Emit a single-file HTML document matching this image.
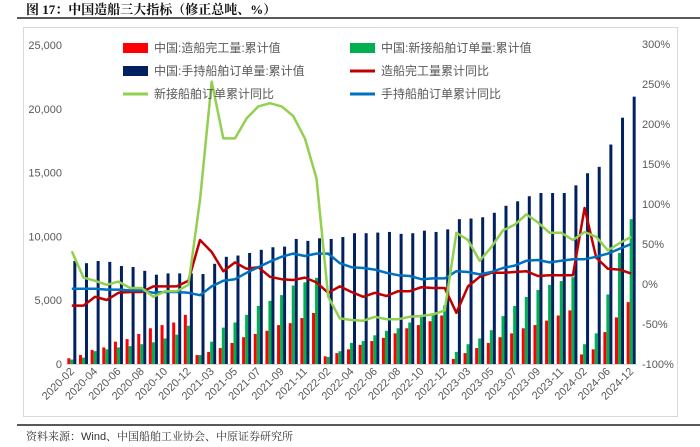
<!DOCTYPE html>
<html><head><meta charset="utf-8">
<style>
body{margin:0;background:#fff;width:700px;height:447px;overflow:hidden;font-family:"Liberation Sans","Noto Sans CJK SC",sans-serif;}
svg{position:absolute;left:0;top:0}
</style></head>
<body>
<svg id="chart" width="700" height="447" viewBox="0 0 700 447">
<text x="26" y="14" font-size="13" font-weight="bold" font-family="'Liberation Serif','Noto Serif CJK SC',serif" fill="#111">图 17：中国造船三大指标（修正总吨、%）</text>
<line x1="17" y1="18" x2="700" y2="18" stroke="#222" stroke-width="1.5"/>
<rect x="23.5" y="27.5" width="654" height="389" fill="none" stroke="#d9d9d9"/>
<line x1="17" y1="425" x2="700" y2="425" stroke="#222" stroke-width="1.5"/>
<text x="26" y="440" font-size="11" fill="#333" font-family="'Liberation Sans','Noto Serif CJK SC',serif">资料来源：Wind、中国船舶工业协会、中原证券研究所</text>
<g id="plot"></g>
<g id="legend" font-size="12" fill="#595959">
 <rect x="123" y="43" width="25" height="10" fill="#ff0000"/>
 <text x="154" y="52">中国:造船完工量:累计值</text>
 <rect x="350" y="43" width="25" height="10" fill="#00b050"/>
 <text x="381" y="52">中国:新接船舶订单量:累计值</text>
 <rect x="123" y="66" width="25" height="10" fill="#002060"/>
 <text x="154" y="75">中国:手持船舶订单量:累计值</text>
 <line x1="350" y1="71" x2="375" y2="71" stroke="#c00000" stroke-width="3"/>
 <text x="381" y="75">造船完工量累计同比</text>
 <line x1="123" y1="94" x2="148" y2="94" stroke="#92d050" stroke-width="3"/>
 <text x="154" y="98">新接船舶订单累计同比</text>
 <line x1="350" y1="94" x2="375" y2="94" stroke="#0070c0" stroke-width="3"/>
 <text x="381" y="98">手持船舶订单累计同比</text>
</g>
</svg>
<script>
const categories=[];
(function(){for(const y of [2020,2021,2022,2023]){for(let m=2;m<=12;m++)categories.push(y+'-'+(m<10?'0':'')+m);}})();
categories.push('2024-02','2024-04','2024-06','2024-09','2024-12');
const completion=[450,700,1100,1300,1750,1950,2350,2800,3050,3250,3850,700,950,1250,1650,2100,2350,2600,3050,3200,3600,4000,600,850,1150,1500,1800,2050,2400,2800,3050,3350,3800,400,850,1250,1650,2100,2400,2800,3050,3400,3800,4200,750,1150,2500,3650,4850];
const newOrders=[350,500,1000,1150,1300,1400,1550,1700,2000,2300,3000,700,1750,2850,3250,3850,4550,4950,5400,6150,6400,6750,550,1000,1650,1800,2250,2600,2800,3250,3700,4000,4600,950,1550,2000,2650,3750,4550,5250,5800,6200,6500,6800,1550,2400,5450,8700,11350];
const orderbook=[8070,7900,8070,8000,7680,7600,7300,7000,7100,7100,7100,7050,7850,8400,8500,8700,8950,9150,9200,9800,9650,9850,9800,9950,10250,10250,10300,10350,10200,10250,10450,10350,10550,11350,11400,11500,11850,12400,12750,13150,13400,13400,13400,14000,14950,15450,17200,19300,20950];
const completionYoy=[-27,-27,-16,-20,-11,-10,-10,-3,-3,-3,4,55,40,16,27,19,21,9,6,5,8,2,-11,-3,-10,-16,-11,-15,-9,-9,-4,-5,-5,-36,-3,9,14,14,15,16,10,11,11,11,95,33,19,18,13];
const orderbookYoy=[-6,-6,-6,-7,-7,-8,-8,-11,-10,-10,-11,-14,-3,4,6,14,21,28,34,38,35,38,38,26,21,20,18,14,11,10,6,7,7,16,15,12,15,20,23,29,30,27,29,31,31,34,38,44,50];
const newOrdersYoy=[41,8,4,-1,3,-5,-5,-16,-9,-9,-1,105,253,182,182,207,222,226,222,210,182,132,-16,-43,-45,-46,-41,-44,-44,-41,-40,-38,-33,64,55,29,46,67,74,87,77,64,64,55,65,59,42,51,59];
const leftTicks=[0,5000,10000,15000,20000,25000];
const rightTicks=[-100,-50,0,50,100,150,200,250,300];

const NS='http://www.w3.org/2000/svg';
const plot=document.getElementById('plot');
const X0=66,X1=637,step=(X1-X0)/categories.length;
const yL=v=>364-v*(319/25000);
const yR=v=>284-v*0.8;
const xc=i=>X0+step*(i+0.5);
function mk(tag,attrs){const e=document.createElementNS(NS,tag);for(const k in attrs)e.setAttribute(k,attrs[k]);plot.appendChild(e);return e;}
// axis baseline
const base=mk('line',{x1:X0,x2:X1,y1:364.5,y2:364.5,stroke:'#d9d9d9'});


leftTicks.forEach(v=>{
  const t=mk('text',{x:62,y:yL(v)+4,'font-size':11,fill:'#595959','text-anchor':'end'});
  t.textContent=v.toLocaleString('en-US');
  
  
});
rightTicks.forEach(v=>{
  const t=mk('text',{x:642,y:yR(v)+4,'font-size':11,fill:'#595959'});
  t.textContent=v+'%';
  
  
});
categories.forEach((c,i)=>{
  const cx=xc(i);
  const r=mk('rect',{x:cx-4.5,y:yL(completion[i]),width:3,height:364-yL(completion[i]),fill:'#ff0000'});
  
  
  const g=mk('rect',{x:cx-1.5,y:yL(newOrders[i]),width:3,height:364-yL(newOrders[i]),fill:'#00b050'});
  
  
  const n=mk('rect',{x:cx+1.5,y:yL(orderbook[i]),width:3,height:364-yL(orderbook[i]),fill:'#002060'});
  
  
  if(i%2===0){
    const lx=cx+3,ly=372;
    const t=mk('text',{x:lx,y:ly,'font-size':11,fill:'#595959','text-anchor':'end',transform:`rotate(-45 ${lx} ${ly})`});
    t.textContent=c;
    
    
  }
});
function line(arr,color,name){
  const p=mk('polyline',{points:arr.map((v,i)=>xc(i).toFixed(1)+','+yR(v).toFixed(1)).join(' '),fill:'none',stroke:color,'stroke-width':2.5,'stroke-linejoin':'round'});
  
  
}
line(completionYoy,'#c00000','line-completion-yoy');
line(orderbookYoy,'#0070c0','line-orderbook-yoy');
line(newOrdersYoy,'#92d050','line-new-orders-yoy');
plot.parentNode.appendChild(document.getElementById('legend'));
</script>
</body></html>
